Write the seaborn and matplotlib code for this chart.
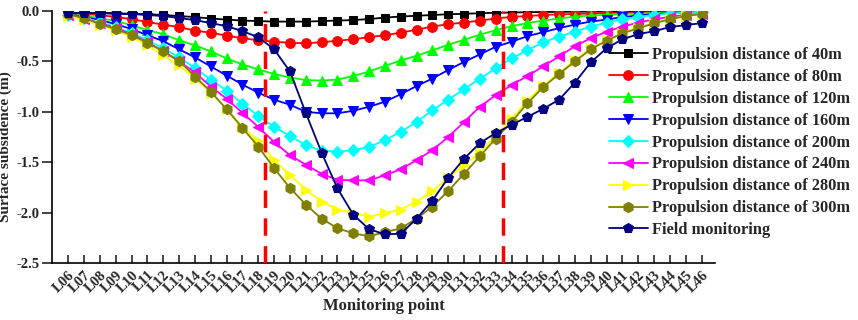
import numpy as np
import pandas as pd
import matplotlib
matplotlib.use("Agg")
import matplotlib.pyplot as plt
import seaborn as sns

points = ["L%02d" % i for i in range(6, 47)]

d40 = [-0.02, -0.02, -0.02, -0.02, -0.03, -0.03, -0.04, -0.05, -0.06, -0.075,
       -0.085, -0.095, -0.10, -0.105, -0.105, -0.105, -0.10, -0.095, -0.09, -0.08,
       -0.065, -0.055, -0.047, -0.04, -0.032, -0.028, -0.022, -0.018, -0.015, -0.012,
       -0.01, -0.008, -0.007, -0.006, -0.005, -0.005, -0.004, -0.004, -0.003, -0.003, -0.003]
d80 = [-0.02, -0.03, -0.04, -0.06, -0.08, -0.11, -0.135, -0.16, -0.195, -0.215,
       -0.245, -0.27, -0.29, -0.305, -0.315, -0.32, -0.31, -0.295, -0.28, -0.26,
       -0.24, -0.215, -0.185, -0.155, -0.13, -0.115, -0.095, -0.075, -0.058, -0.05,
       -0.04, -0.033, -0.03, -0.025, -0.02, -0.018, -0.015, -0.013, -0.011, -0.01, -0.009]
d120 = [-0.03, -0.05, -0.07, -0.10, -0.14, -0.19, -0.23, -0.29, -0.34, -0.40,
        -0.47, -0.53, -0.58, -0.625, -0.66, -0.685, -0.69, -0.68, -0.645, -0.60,
        -0.545, -0.49, -0.445, -0.39, -0.335, -0.285, -0.235, -0.19, -0.15, -0.12,
        -0.095, -0.075, -0.055, -0.045, -0.038, -0.03, -0.025, -0.02, -0.016, -0.013, -0.01]
d160 = [-0.03, -0.06, -0.09, -0.13, -0.18, -0.24, -0.30, -0.38, -0.46, -0.55,
        -0.64, -0.73, -0.81, -0.88, -0.93, -1.00, -1.015, -1.015, -0.99, -0.95,
        -0.90, -0.825, -0.745, -0.67, -0.585, -0.505, -0.43, -0.355, -0.305, -0.25,
        -0.21, -0.17, -0.135, -0.105, -0.085, -0.06, -0.045, -0.032, -0.022, -0.015, -0.01]
d200 = [-0.04, -0.07, -0.11, -0.16, -0.22, -0.29, -0.37, -0.46, -0.565, -0.68,
        -0.79, -0.92, -1.04, -1.15, -1.24, -1.33, -1.385, -1.395, -1.38, -1.35,
        -1.28, -1.20, -1.10, -0.985, -0.88, -0.775, -0.67, -0.57, -0.47, -0.39,
        -0.31, -0.255, -0.205, -0.155, -0.115, -0.083, -0.058, -0.04, -0.025, -0.015, -0.008]
d240 = [-0.04, -0.08, -0.12, -0.17, -0.23, -0.31, -0.40, -0.50, -0.61, -0.75,
        -0.87, -1.01, -1.15, -1.30, -1.43, -1.525, -1.615, -1.675, -1.68, -1.68,
        -1.63, -1.57, -1.48, -1.38, -1.25, -1.10, -0.95, -0.835, -0.735, -0.645,
        -0.55, -0.45, -0.35, -0.27, -0.205, -0.155, -0.115, -0.083, -0.057, -0.04, -0.03]
d280 = [-0.05, -0.09, -0.14, -0.19, -0.26, -0.34, -0.44, -0.54, -0.67, -0.81,
        -0.97, -1.15, -1.29, -1.48, -1.625, -1.775, -1.89, -1.97, -2.005, -2.04,
        -2.005, -1.97, -1.89, -1.785, -1.655, -1.53, -1.40, -1.24, -1.07, -0.89,
        -0.74, -0.615, -0.49, -0.37, -0.29, -0.215, -0.165, -0.115, -0.08, -0.05, -0.03]
d300 = [-0.03, -0.07, -0.13, -0.18, -0.24, -0.315, -0.40, -0.495, -0.65, -0.80,
        -0.975, -1.16, -1.345, -1.56, -1.755, -1.92, -2.06, -2.155, -2.205, -2.235,
        -2.195, -2.155, -2.06, -1.94, -1.785, -1.615, -1.44, -1.265, -1.10, -0.915,
        -0.755, -0.625, -0.50, -0.38, -0.295, -0.222, -0.172, -0.122, -0.083, -0.05, -0.03]
field = [-0.02, -0.02, -0.02, -0.03, -0.03, -0.04, -0.05, -0.07, -0.09, -0.12,
         -0.15, -0.20, -0.26, -0.38, -0.60, -1.01, -1.405, -1.76, -2.02, -2.165,
         -2.215, -2.21, -2.06, -1.88, -1.655, -1.465, -1.31, -1.21, -1.13, -1.05,
         -0.97, -0.88, -0.71, -0.51, -0.37, -0.28, -0.23, -0.20, -0.16, -0.14, -0.12]

series_names = ["Propulsion distance of 40m", "Propulsion distance of 80m",
                "Propulsion distance of 120m", "Propulsion distance of 160m",
                "Propulsion distance of 200m", "Propulsion distance of 240m",
                "Propulsion distance of 280m", "Propulsion distance of 300m",
                "Field monitoring"]
series_values = [d40, d80, d120, d160, d200, d240, d280, d300, field]
boundary_positions = [12.45, 27.45]

colors = ["#000000", "#ff0000", "#00ff00", "#0000ff", "#00ffff",
          "#ff00ff", "#ffff00", "#808000", "#000080"]
markers = ["s", "o", "^", "v", "D", "<", ">", "h", "p"]
msizes = [5.5, 7, 7, 7, 6, 7, 7, 7.5, 7.5]

sns.set_theme(style="ticks")
plt.rcParams["font.family"] = ["Liberation Serif", "DejaVu Serif"]
plt.rcParams["font.weight"] = "bold"
plt.rcParams["axes.unicode_minus"] = False

fig = plt.figure(figsize=(8.58, 3.2), dpi=100)
ax = fig.add_axes([52 / 858, 1 - 263 / 320, (715 - 52) / 858, (263 - 11) / 320])

x = np.arange(len(points))
for name, vals, c, m, ms in zip(series_names, series_values, colors, markers, msizes):
    df = pd.DataFrame({"x": x, "y": vals})
    sns.lineplot(data=df, x="x", y="y", ax=ax, color=c, marker=m, markersize=ms,
                 markeredgecolor=c, linewidth=1.3, label=name)

for xb in boundary_positions:
    ax.axvline(xb, color="#ff0000", linestyle=(0, (5, 3)), linewidth=2.5, zorder=5)

ax.set_xlim(-1.03, 40.85)
ax.set_ylim(-2.5, 0.0)
ax.set_yticks([0.0, -0.5, -1.0, -1.5, -2.0, -2.5])
ax.set_yticklabels(["0.0", "-0.5", "-1.0", "-1.5", "-2.0", "-2.5"], fontsize=10.5, fontweight="bold")
ax.set_xticks(x)
ax.set_xticklabels(points, rotation=45, ha="right", rotation_mode="anchor",
                   fontsize=10.5, fontweight="bold")
ax.tick_params(axis="y", direction="out", length=7, width=1.2, pad=2)
ax.tick_params(axis="x", direction="in", length=6, width=1.2, pad=4)
for s in ["top", "right"]:
    ax.spines[s].set_visible(False)
for s in ["left", "bottom"]:
    ax.spines[s].set_linewidth(1.2)
    ax.spines[s].set_color("black")

ax.set_xlabel("Monitoring point", fontsize=12, fontweight="bold", labelpad=2)
ax.set_ylabel("Surface subsidence (m)", fontsize=11, fontweight="bold")
ax.yaxis.set_label_coords(-0.06, 0.46)

leg = ax.legend(loc="upper left", bbox_to_anchor=(609 / 858, 1 - 47 / 320),
                bbox_transform=fig.transFigure, frameon=False, fontsize=11.8,
                handlelength=2.35, handletextpad=0.3, labelspacing=0.36,
                borderpad=0, borderaxespad=0)
for t in leg.get_texts():
    t.set_fontweight("bold")

fig.savefig("out.png", dpi=100)
